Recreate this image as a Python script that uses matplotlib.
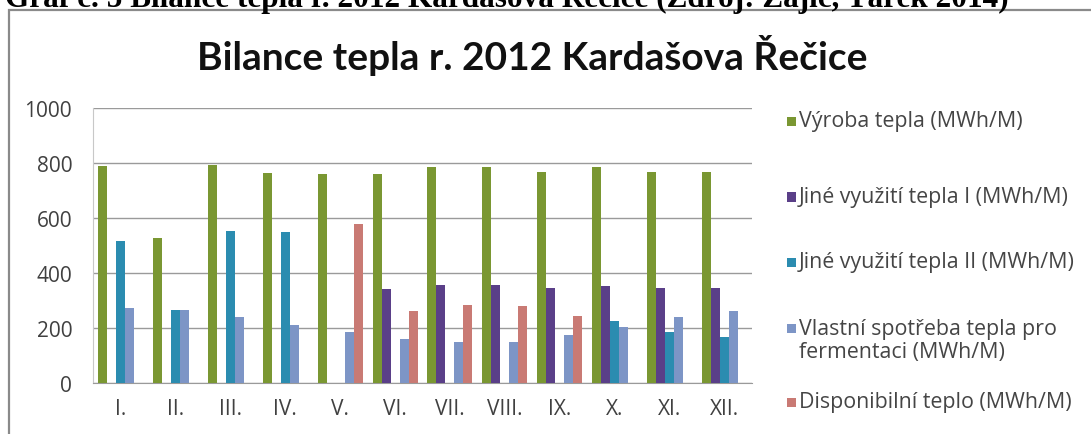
import matplotlib
matplotlib.use("Agg")
import matplotlib.pyplot as plt
import numpy as np
from matplotlib.patches import Rectangle

months = ["I.", "II.", "III.", "IV.", "V.", "VI.", "VII.", "VIII.", "IX.", "X.", "XI.", "XII."]
series_names = [
    "Výroba tepla (MWh/M)",
    "Jiné využití tepla I (MWh/M)",
    "Jiné využití tepla II (MWh/M)",
    "Vlastní spotřeba tepla pro\nfermentaci (MWh/M)",
    "Disponibilní teplo (MWh/M)",
]
vyroba = [789, 528, 793, 764, 760, 760, 785, 787, 767, 785, 767, 767]
jine1 = [0, 0, 0, 0, 0, 342, 356, 356, 345, 353, 345, 345]
jine2 = [516, 265, 553, 549, 0, 0, 0, 0, 0, 225, 185, 167]
vlastni = [273, 265, 240, 211, 185, 160, 149, 149, 174, 204, 240, 262]
disponibilni = [0, 0, 0, 0, 578, 262, 283, 280, 244, 0, 0, 0]
yticks = [0, 200, 400, 600, 800, 1000]

colors = ["#7a9732", "#5a3f88", "#2b8cb0", "#7d95c6", "#c97a74"]
series = [vyroba, jine1, jine2, vlastni, disponibilni]

W, H = 1091, 435
fig = plt.figure(figsize=(W / 100, H / 100), dpi=100)
fig.patch.set_facecolor("white")

def fx(px):
    return px / W

def fy(py):
    return 1 - py / H

# chart frame
fig.patches.append(Rectangle((fx(9), fy(440)), fx(1100) - fx(9), fy(11) - fy(440),
                             transform=fig.transFigure, fill=False,
                             edgecolor="#8a8a8a", linewidth=1.6, zorder=0))

ax = fig.add_axes([fx(93), fy(384), fx(752) - fx(93), fy(109) - fy(384)])
x = np.arange(len(months))
w = 9 / 55
for i, (vals, c) in enumerate(zip(series, colors)):
    ax.bar(x + (i - 2) * w, vals, width=w, color=c, edgecolor="none", zorder=3)

TICK_FS = 15
ax.set_xlim(-0.5, len(months) - 0.5)
ax.set_ylim(0, 1000)
ax.set_yticks(yticks)
ax.set_xticks(x)
ax.set_xticklabels(months, fontfamily="Open Sans", fontsize=TICK_FS, color="#404040")
ax.set_yticklabels([str(v) for v in yticks], fontfamily="Open Sans", fontsize=TICK_FS, color="#404040")
ax.yaxis.grid(True, color="#9a9a9a", linewidth=1.0, zorder=0)
for s in ["top", "right"]:
    ax.spines[s].set_visible(False)
ax.spines["left"].set_color("#c8c8c8")
ax.spines["bottom"].set_color("#9a9a9a")
ax.tick_params(axis="both", length=0)
ax.tick_params(axis="y", pad=15)
ax.tick_params(axis="x", pad=11)

fig.canvas.draw()
renderer = fig.canvas.get_renderer()

def fit_size(t, target_width):
    bb = t.get_window_extent(renderer)
    return t.get_fontsize() * target_width / bb.width

header = fig.text(fx(5), fy(7), "Graf č. 5 Bilance tepla r. 2012 Kardašova Řečice (Zdroj: Zajíc, Tárek 2014)",
                  fontfamily="Liberation Serif", fontweight="bold", fontsize=18,
                  ha="left", va="baseline", color="black")
header.set_fontsize(fit_size(header, 1005))

title = fig.text(fx(532), fy(55), "Bilance tepla r. 2012 Kardašova Řečice",
                 fontfamily="Lato", fontweight="bold", fontsize=20,
                 ha="center", va="center", color="#111111")
title.set_fontsize(fit_size(title, 671))

# legend
probe = fig.text(0, 0, series_names[1], fontfamily="Open Sans", fontsize=12)
LEG_FS = fit_size(probe, 268)
probe.remove()

leg_y = [122, 198, 263, 341, 403]
for name, c, yy in zip(series_names, colors, leg_y):
    nlines = name.count("\n") + 1
    first_y = yy - (nlines - 1) * 12
    fig.patches.append(Rectangle((fx(787), fy(first_y + 4.5)), fx(9), fy(0) - fy(9),
                                 transform=fig.transFigure, facecolor=c, edgecolor="none"))
    fig.text(fx(799), fy(yy), name, fontfamily="Open Sans", fontsize=LEG_FS, color="#454545",
             ha="left", va="center", linespacing=1.15)

fig.savefig("out.png", dpi=100, facecolor="white")
